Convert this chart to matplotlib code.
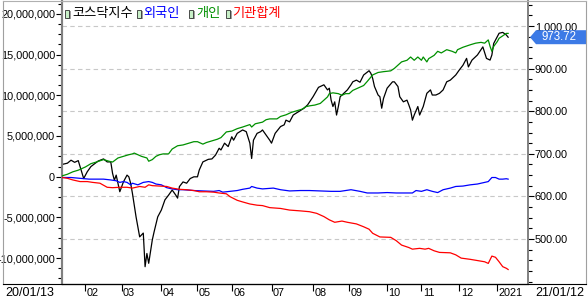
import numpy as np
import pandas as pd
import matplotlib
matplotlib.use("Agg")
import matplotlib.pyplot as plt
from matplotlib import font_manager
from matplotlib.patches import Polygon, Rectangle
from matplotlib.lines import Line2D
from matplotlib.transforms import IdentityTransform, blended_transform_factory, offset_copy
from matplotlib.ticker import FixedLocator, MultipleLocator, FuncFormatter

# ---------------- data ----------------
start_date = "2020-01-13"
end_date = "2021-01-12"
krx_holidays = ["2020-01-24", "2020-01-27", "2020-04-15", "2020-04-30", "2020-05-01",
                "2020-05-05", "2020-08-17", "2020-09-30", "2020-10-01", "2020-10-02",
                "2020-10-09", "2020-12-25", "2020-12-31", "2021-01-01"]

series_names = ["코스닥지수", "외국인", "개인", "기관합계"]

# KOSDAQ index (right axis); x = trading-day number since start
kosdaq_day = [0, 3, 5, 7, 9, 10, 12, 14, 16, 20, 23, 25, 27, 28, 29, 30, 32, 34, 36, 37,
              38, 39, 41, 43, 45, 46, 47, 48, 50, 51, 53, 55, 57, 59, 61, 63, 64, 65, 67, 69,
              71, 73, 75, 76, 78, 81, 83, 85, 87, 88, 90, 92, 94, 95, 97, 100, 102, 104, 105, 106,
              108, 110, 111, 113, 115, 116, 118, 121, 123, 124, 126, 128, 131, 134, 136, 139, 142, 145, 147, 148,
              149, 150, 151, 152, 153, 154, 156, 158, 160, 161, 163, 165, 167, 170, 171, 172, 173, 175, 176, 177,
              178, 180, 183, 184, 186, 187, 189, 191, 192, 193, 194, 195, 197, 198, 200, 202, 204, 205, 207, 209,
              211, 213, 215, 218, 220, 222, 224, 225, 227, 229, 230, 233, 235, 237, 238, 239, 241, 242, 244, 246,
              247]
kosdaq_val = [675, 678, 685, 680, 684, 670, 642, 658, 670, 683, 688, 681, 681, 654, 638, 650, 611, 634, 650, 646,
              631, 607, 552, 505, 514, 435, 466, 443, 498, 517, 552, 568, 592, 603, 615, 603, 596, 623, 634, 631,
              642, 646, 646, 662, 681, 687, 688, 697, 713, 709, 725, 717, 740, 732, 748, 756, 752, 725, 689, 732,
              748, 752, 756, 744, 732, 725, 748, 764, 768, 779, 775, 791, 799, 807, 815, 834, 856, 862, 850, 854,
              826, 811, 822, 791, 811, 834, 842, 850, 862, 869, 873, 868, 885, 895, 889, 877, 858, 838, 834, 807,
              830, 854, 869, 869, 858, 834, 822, 826, 815, 803, 779, 791, 811, 791, 811, 842, 850, 838, 838, 842,
              850, 869, 873, 885, 897, 908, 924, 904, 920, 928, 932, 951, 924, 920, 932, 959, 975, 983, 985, 979,
              973.72]

# Individuals cumulative net buying (left axis, millions)
indiv_day = [0, 3, 6, 9, 13, 16, 19, 23, 26, 28, 31, 34, 37, 39, 40, 42, 44, 47, 48, 50,
             52, 54, 56, 59, 61, 64, 67, 70, 73, 75, 78, 80, 83, 86, 88, 91, 94, 97, 100, 104,
             105, 107, 111, 113, 115, 119, 121, 124, 127, 130, 133, 135, 137, 140, 143, 145, 147, 148, 150, 153,
             155, 157, 159, 161, 164, 167, 169, 172, 175, 178, 182, 184, 186, 188, 191, 193, 195, 197, 199, 200,
             202, 203, 206, 208, 210, 213, 216, 218, 219, 222, 226, 229, 232, 234, 236, 237, 238, 239, 241, 242,
             244, 246, 247]
indiv_val = [0.1, 0.3, 0.6, 0.8, 1.2, 1.6, 1.8, 2.1, 1.9, 1.8, 2.3, 2.5, 2.7, 2.8, 2.9, 2.7, 2.5, 2.3, 1.9, 2.1,
             2.5, 2.7, 2.8, 2.8, 3.4, 3.8, 3.9, 4.1, 4.3, 4.3, 4.0, 4.2, 4.4, 4.6, 4.8, 5.5, 5.6, 5.9, 6.1, 6.4,
             6.1, 6.5, 6.7, 7.0, 7.1, 7.1, 7.4, 7.6, 7.9, 8.1, 8.3, 8.6, 8.7, 8.8, 9.0, 9.4, 9.8, 10.2, 10.3, 10.2,
             10.0, 10.2, 10.2, 10.6, 10.9, 11.2, 11.7, 12.5, 12.8, 12.9, 13.0, 13.3, 13.7, 14.1, 14.3, 14.7, 14.3, 14.7, 14.3, 14.7,
             14.1, 14.5, 14.9, 15.4, 15.2, 15.6, 15.4, 15.2, 15.6, 15.9, 16.2, 16.4, 16.5, 16.4, 16.8, 16.0, 15.4, 16.0, 16.6, 17.0,
             17.3, 17.6, 17.6]

# Foreigners cumulative net buying (left axis, millions)
foreign_day = [0, 5, 10, 15, 19, 23, 27, 30, 32, 34, 36, 38, 39, 42, 45, 48, 50, 52, 55, 58,
               61, 64, 67, 73, 78, 84, 87, 89, 93, 97, 100, 104, 105, 108, 111, 117, 121, 126, 132, 137,
               143, 149, 154, 160, 165, 169, 175, 180, 185, 191, 194, 196, 199, 202, 205, 208, 211, 215, 218, 222,
               226, 230, 234, 236, 238, 240, 242, 244, 246, 247]
foreign_val = [-0.1, -0.1, -0.2, -0.3, -0.3, -0.3, -0.4, -0.5, -0.7, -0.6, -0.7, -1.0, -0.8, -1.0, -0.7, -0.6, -0.7, -0.9, -1.0, -1.35,
               -1.5, -1.6, -1.6, -1.7, -1.75, -1.8, -1.7, -1.9, -1.8, -1.7, -1.55, -1.4, -1.2, -1.4, -1.5, -1.4, -1.6, -1.75, -1.7, -1.7,
               -1.75, -1.8, -1.8, -1.6, -1.8, -2.0, -2.0, -1.95, -2.0, -2.0, -2.0, -1.7, -1.8, -1.6, -1.8, -1.95, -1.6, -1.4, -1.2, -1.15,
               -1.0, -0.9, -0.7, -0.6, -0.1, -0.1, -0.3, -0.3, -0.25, -0.3]

# Institutions cumulative net buying (left axis, millions)
inst_day = [0, 3, 6, 10, 14, 17, 21, 25, 28, 32, 36, 39, 43, 46, 48, 50, 54, 58, 61, 65,
            69, 73, 76, 80, 84, 87, 91, 93, 97, 100, 104, 108, 111, 115, 121, 126, 132, 137, 141, 145,
            148, 151, 155, 158, 163, 167, 170, 172, 176, 182, 185, 188, 192, 194, 198, 201, 203, 206, 209, 215,
            218, 221, 226, 230, 234, 236, 238, 240, 242, 244, 246, 247]
inst_val = [-0.1, -0.2, -0.4, -0.6, -0.6, -0.7, -0.8, -1.3, -1.35, -1.3, -1.3, -1.4, -1.2, -1.3, -1.0, -1.1, -1.15, -1.2, -1.4, -1.55,
            -1.6, -1.7, -1.85, -1.85, -1.9, -2.0, -2.1, -2.45, -2.9, -3.1, -3.35, -3.5, -3.55, -3.8, -3.9, -4.1, -4.2, -4.3, -4.5, -4.9,
            -5.3, -5.6, -5.45, -5.6, -5.8, -6.15, -6.45, -6.95, -7.4, -7.45, -7.85, -8.4, -8.7, -8.9, -8.8, -8.9, -8.8, -9.1, -9.3, -9.35,
            -9.6, -10.0, -10.15, -10.3, -10.45, -10.65, -9.75, -9.9, -10.45, -11.05, -11.25, -11.4]

left_ticks = [-10e6, -5e6, 0, 5e6, 10e6, 15e6, 20e6]
right_ticks = [500, 600, 700, 800, 900, 1000]
month_labels = ["02", "03", "04", "05", "06", "07", "08", "09", "10", "11", "12", "2021"]
start_label = "20/01/13"
end_label = "21/01/12"

# ---------------- helpers ----------------
names = {f.name for f in font_manager.fontManager.ttflist}
if "Liberation Sans Narrow" in names:
    NUM_FONT, NUM_SIZE = "Liberation Sans Narrow", 9.0
else:
    NUM_FONT, NUM_SIZE = "Liberation Sans", 7.8
KR_FONT = ["Noto Sans CJK KR", "DejaVu Sans"]

days = pd.bdate_range(start_date, end_date, freq="C", holidays=krx_holidays)
month_start_idx = [int(np.argmax((days.year == d.year) & (days.month == d.month)))
                   for d in pd.date_range("2020-02-01", "2021-01-01", freq="MS")]

W, H = 588, 303
fig = plt.figure(figsize=(W / 100, H / 100), dpi=100)
fig.patch.set_facecolor("white")

L, R, T, B = 62, 528, 1, 284
ax = fig.add_axes([L / W, (H - B) / H, (R - L) / W, (B - T) / H])
axf = ax.twinx()

ax.set_xlim(0, 258)
ax.set_ylim(394.4, 1058.7)
axf.set_ylim(-13.18e6, 21.58e6)

ax.yaxis.tick_right()
axf.yaxis.tick_left()

for y in right_ticks:
    ax.axhline(y, color="#c8c8c8", lw=0.8, ls=(0, (4, 3)), zorder=0)

ax.plot(kosdaq_day, kosdaq_val, color="black", lw=0.9, zorder=3)
axf.plot(foreign_day, np.array(foreign_val) * 1e6, color="#0000ff", lw=0.9, zorder=3)
axf.plot(indiv_day, np.array(indiv_val) * 1e6, color="#009000", lw=0.9, zorder=3)
axf.plot(inst_day, np.array(inst_val) * 1e6, color="#ff0000", lw=0.9, zorder=3)

for a in (ax, axf):
    a.spines["top"].set_color("#b0b0b0")
    a.spines["top"].set_linewidth(0.8)
    a.spines["bottom"].set_color("black")
    a.spines["bottom"].set_linewidth(0.8)
    a.spines["left"].set_color("#808080")
    a.spines["left"].set_linewidth(1.5)
    a.spines["right"].set_color("#808080")
    a.spines["right"].set_linewidth(1.2)

# right axis ticks
ax.yaxis.set_major_locator(FixedLocator(right_ticks))
ax.yaxis.set_minor_locator(MultipleLocator(25))
ax.yaxis.set_major_formatter(FuncFormatter(lambda v, p: f"{v:,.2f}"))
ax.tick_params(axis="y", which="major", direction="out", length=4, width=0.8, pad=1,
               labelsize=NUM_SIZE, colors="black")
ax.tick_params(axis="y", which="minor", direction="out", length=3, width=0.8)
for lab in ax.get_yticklabels():
    lab.set_fontfamily(NUM_FONT)

# left axis ticks
axf.yaxis.set_major_locator(FixedLocator(left_ticks))
axf.yaxis.set_minor_locator(MultipleLocator(1.25e6))
axf.yaxis.set_major_formatter(FuncFormatter(lambda v, p: f"{v:,.0f}"))
axf.tick_params(axis="y", which="major", direction="out", length=4, width=0.8, pad=1,
                labelsize=NUM_SIZE, colors="black")
axf.tick_params(axis="y", which="minor", direction="out", length=3, width=0.8)
for lab in axf.get_yticklabels():
    lab.set_fontfamily(NUM_FONT)

# bottom ticks
ax.set_xticks(month_start_idx)
ax.set_xticklabels([])
ax.tick_params(axis="x", direction="out", length=5, width=0.8)
axf.tick_params(axis="x", bottom=False, labelbottom=False)
trans = blended_transform_factory(ax.transData, ax.transAxes)
for pos, lab in zip(month_start_idx, month_labels):
    ax.text(pos, 0, lab, transform=offset_copy(trans, fig=fig, x=1.5, y=-9.5, units="dots"),
            ha="left", va="center", fontsize=NUM_SIZE, fontfamily=NUM_FONT, clip_on=False)

fig.text(5 / W, 1 - 293 / H, start_label, ha="left", va="center", fontsize=NUM_SIZE + 1.2,
         fontfamily=NUM_FONT)
fig.text(535 / W, 1 - 293 / H, end_label, ha="left", va="center", fontsize=NUM_SIZE + 1.2,
         fontfamily=NUM_FONT)

# outer frame
fig.add_artist(Line2D([3 / W, 3 / W], [1 - 284 / H, 1 - 0.5 / H], color="#a0a0a0", lw=0.8))
fig.add_artist(Line2D([586 / W, 586 / W], [1 - 284 / H, 1 - 0.5 / H], color="#a0a0a0", lw=0.8))
fig.add_artist(Line2D([3 / W, 586 / W], [1 - 0.5 / H, 1 - 0.5 / H], color="#b0b0b0", lw=0.8))
fig.add_artist(Line2D([3 / W, 586 / W], [1 - 284 / H, 1 - 284 / H], color="black", lw=0.8))

# legend
legend_colors = ["black", "#0000ff", "#009000", "#ff0000"]
icon_x = [65, 137, 189, 226]
text_x = [72, 143, 196, 232]
for ix, tx, name, col in zip(icon_x, text_x, series_names, legend_colors):
    fig.add_artist(Rectangle(((ix + 1.5) / W, 1 - 19 / H), 4 / W, 8 / H, transform=fig.transFigure,
                             facecolor="#a0a0a0", edgecolor="none"))
    fig.add_artist(Rectangle((ix / W, 1 - 17.5 / H), 4 / W, 8 / H, transform=fig.transFigure,
                             facecolor="#c8f0c8", edgecolor="#303030", lw=0.6))
    fig.text(tx / W, 1 - 14 / H, name, ha="left", va="center", fontsize=9.5, color=col, family=KR_FONT)

# current price tag
fig.canvas.draw()
yd = ax.transData.transform((0, kosdaq_val[-1]))[1]
tag = Polygon([(530, yd), (536, yd + 7), (586, yd + 7), (586, yd - 7), (536, yd - 7)],
              closed=True, transform=IdentityTransform(), facecolor="#3c7ae6", edgecolor="none")
fig.add_artist(tag)
fig.text(559 / W, yd / H, f"{kosdaq_val[-1]:.2f}", ha="center", va="center", fontsize=NUM_SIZE + 0.5,
         color="white", fontfamily=NUM_FONT)

fig.savefig("out.png", dpi=100)
